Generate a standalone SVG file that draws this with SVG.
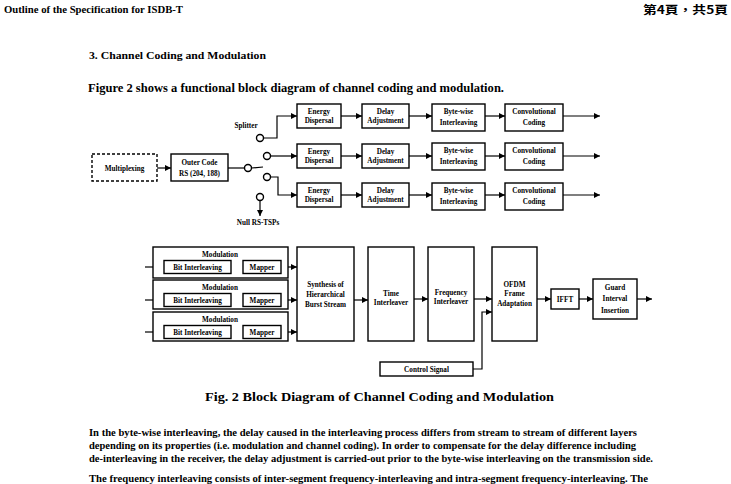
<svg xmlns="http://www.w3.org/2000/svg" width="731" height="484" viewBox="0 0 731 484">
<defs>
<marker id="ah" viewBox="0 0 6 6" refX="6" refY="3" markerWidth="6" markerHeight="6" markerUnits="userSpaceOnUse" orient="auto">
<path d="M0,0 L6,3 L0,6 Z" fill="#000"/>
</marker>
<style>
.bx{fill:#fff;stroke:#000;stroke-width:1.4}
.dash{fill:#fff;stroke:#000;stroke-width:1.4;stroke-dasharray:3 2}
.ln{fill:none;stroke:#000;stroke-width:1.2}
.ar{fill:none;stroke:#000;stroke-width:1.2;marker-end:url(#ah)}
.cir{fill:#fff;stroke:#000;stroke-width:1.4}
.t{font-family:'Liberation Serif','Times New Roman',serif;font-weight:bold;font-size:7.2px;text-anchor:middle;fill:#000}
.p{font-family:'Liberation Serif','Times New Roman',serif;font-weight:bold;fill:#000}
</style>
</defs>
<rect width="731" height="484" fill="#fff"/>

<g id="page-text">
<text class="p" x="4" y="13" font-size="10" textLength="179" lengthAdjust="spacingAndGlyphs">Outline of the Specification for ISDB-T</text>
<text x="643" y="14" font-family="'Noto Sans CJK TC','Noto Sans CJK SC',sans-serif" font-weight="bold" font-size="11" textLength="85" lengthAdjust="spacingAndGlyphs">第4頁，共5頁</text>
<text class="p" x="89" y="59" font-size="10.5" textLength="177" lengthAdjust="spacingAndGlyphs">3. Channel Coding and Modulation</text>
<text class="p" x="88" y="92" font-size="11.5" textLength="416" lengthAdjust="spacingAndGlyphs">Figure 2 shows a functional block diagram of channel coding and modulation.</text>
<text class="p" x="205" y="401" font-size="12" textLength="349" lengthAdjust="spacingAndGlyphs">Fig. 2  Block Diagram of Channel Coding and Modulation</text>
<text class="p" x="89" y="436" font-size="10" textLength="548" lengthAdjust="spacingAndGlyphs">In the byte-wise interleaving, the delay caused in the interleaving process differs from stream to stream of different layers</text>
<text class="p" x="89" y="449" font-size="10" textLength="547" lengthAdjust="spacingAndGlyphs">depending on its properties (i.e. modulation and channel coding). In order to compensate for the delay difference including</text>
<text class="p" x="89" y="462" font-size="10" textLength="564" lengthAdjust="spacingAndGlyphs">de-interleaving in the receiver, the delay adjustment is carried-out prior to the byte-wise interleaving on the transmission side.</text>
<text class="p" x="89" y="482" font-size="10" textLength="559" lengthAdjust="spacingAndGlyphs">The frequency interleaving consists of inter-segment frequency-interleaving and intra-segment frequency-interleaving. The</text>
</g>

<g id="connectors">
<line class="ar" x1="157" y1="168" x2="171" y2="168"/>
<line class="ln" x1="228" y1="168" x2="244.5" y2="168"/>
<line class="ln" x1="251.5" y1="168" x2="263" y2="167"/>
<polyline class="ar" points="263.5,138 277,138 277,116 297,116"/>
<line class="ar" x1="270.5" y1="156" x2="297" y2="156"/>
<polyline class="ar" points="270.5,177 278,177 278,195 297,195"/>
<line class="ar" x1="260" y1="200.5" x2="260" y2="216"/>

<line class="ar" x1="341" y1="116" x2="362" y2="116"/>
<line class="ar" x1="409" y1="116" x2="432" y2="116"/>
<line class="ar" x1="485" y1="116" x2="505" y2="116"/>
<line class="ar" x1="563" y1="116" x2="600" y2="116"/>
<line class="ar" x1="341" y1="156" x2="362" y2="156"/>
<line class="ar" x1="409" y1="156" x2="432" y2="156"/>
<line class="ar" x1="485" y1="156" x2="505" y2="156"/>
<line class="ar" x1="563" y1="156" x2="600" y2="156"/>
<line class="ar" x1="341" y1="195" x2="362" y2="195"/>
<line class="ar" x1="409" y1="195" x2="432" y2="195"/>
<line class="ar" x1="485" y1="195" x2="505" y2="195"/>
<line class="ar" x1="563" y1="195" x2="600" y2="195"/>

<line class="ar" x1="145" y1="267" x2="164" y2="267"/>
<line class="ar" x1="231" y1="267" x2="243" y2="267"/>
<line class="ar" x1="281" y1="267" x2="297" y2="267"/>
<line class="ar" x1="145" y1="300" x2="164" y2="300"/>
<line class="ar" x1="231" y1="300" x2="243" y2="300"/>
<line class="ar" x1="281" y1="300" x2="297" y2="300"/>
<line class="ar" x1="145" y1="332" x2="164" y2="332"/>
<line class="ar" x1="231" y1="332" x2="243" y2="332"/>
<line class="ar" x1="281" y1="332" x2="297" y2="332"/>

<line class="ar" x1="354" y1="300" x2="368" y2="300"/>
<line class="ar" x1="414" y1="299" x2="428" y2="299"/>
<line class="ar" x1="474" y1="299" x2="492" y2="299"/>
<polyline class="ar" points="473,369 482,369 482,312 492,312"/>
<line class="ar" x1="537" y1="299" x2="551" y2="299"/>
<line class="ar" x1="579" y1="299" x2="593" y2="299"/>
<line class="ar" x1="637" y1="299" x2="652" y2="299"/>
</g>

<g id="multiplexing">
<rect class="dash" x="92" y="154" width="65" height="27"/>
<text class="t" x="124.5" y="170.5">Multiplexing</text>
</g>
<g id="outer-code">
<rect class="bx" x="171" y="154" width="57" height="27"/>
<text class="t" x="199.5" y="165">Outer Code</text>
<text class="t" x="199.5" y="176">RS (204, 188)</text>
</g>
<g id="splitter">
<circle class="cir" cx="248" cy="168" r="3.5"/>
<circle class="cir" cx="260" cy="138" r="3.5"/>
<circle class="cir" cx="267" cy="156" r="3.5"/>
<circle class="cir" cx="267" cy="177" r="3.5"/>
<circle class="cir" cx="260" cy="197" r="3.5"/>
<text class="t" x="246" y="127.5">Splitter</text>
<text class="t" x="258" y="224.5">Null RS-TSPs</text>
</g>

<g id="energy-1"><rect class="bx" x="297" y="104" width="44" height="24"/><text class="t" x="319" y="113.5">Energy</text><text class="t" x="319" y="123">Dispersal</text></g>
<g id="energy-2"><rect class="bx" x="297" y="144" width="44" height="24"/><text class="t" x="319" y="153.5">Energy</text><text class="t" x="319" y="163">Dispersal</text></g>
<g id="energy-3"><rect class="bx" x="297" y="183" width="44" height="24"/><text class="t" x="319" y="192.5">Energy</text><text class="t" x="319" y="202">Dispersal</text></g>

<g id="delay-1"><rect class="bx" x="362" y="104" width="47" height="24"/><text class="t" x="385.5" y="113.5">Delay</text><text class="t" x="385.5" y="123">Adjustment</text></g>
<g id="delay-2"><rect class="bx" x="362" y="144" width="47" height="24"/><text class="t" x="385.5" y="153.5">Delay</text><text class="t" x="385.5" y="163">Adjustment</text></g>
<g id="delay-3"><rect class="bx" x="362" y="183" width="47" height="24"/><text class="t" x="385.5" y="192.5">Delay</text><text class="t" x="385.5" y="202">Adjustment</text></g>

<g id="byte-1"><rect class="bx" x="432" y="104" width="53" height="27"/><text class="t" x="458.5" y="114">Byte-wise</text><text class="t" x="458.5" y="124.5">Interleaving</text></g>
<g id="byte-2"><rect class="bx" x="432" y="143" width="53" height="27"/><text class="t" x="458.5" y="153">Byte-wise</text><text class="t" x="458.5" y="163.5">Interleaving</text></g>
<g id="byte-3"><rect class="bx" x="432" y="183" width="53" height="27"/><text class="t" x="458.5" y="193">Byte-wise</text><text class="t" x="458.5" y="203.5">Interleaving</text></g>

<g id="conv-1"><rect class="bx" x="505" y="104" width="58" height="27"/><text class="t" x="534" y="114">Convolutional</text><text class="t" x="534" y="124.5">Coding</text></g>
<g id="conv-2"><rect class="bx" x="505" y="143" width="58" height="27"/><text class="t" x="534" y="153">Convolutional</text><text class="t" x="534" y="163.5">Coding</text></g>
<g id="conv-3"><rect class="bx" x="505" y="183" width="58" height="27"/><text class="t" x="534" y="193">Convolutional</text><text class="t" x="534" y="203.5">Coding</text></g>

<g id="modulation-1">
<rect class="bx" x="153" y="247" width="135" height="31"/>
<text class="t" x="220" y="257">Modulation</text>
<rect class="bx" x="164" y="260.5" width="67" height="13"/><text class="t" x="197.5" y="269.5">Bit Interleaving</text>
<rect class="bx" x="243" y="260.5" width="38" height="13"/><text class="t" x="262" y="269.5">Mapper</text>
</g>
<g id="modulation-2">
<rect class="bx" x="153" y="280" width="135" height="29"/>
<text class="t" x="220" y="290">Modulation</text>
<rect class="bx" x="164" y="293.5" width="67" height="13"/><text class="t" x="197.5" y="302.5">Bit Interleaving</text>
<rect class="bx" x="243" y="293.5" width="38" height="13"/><text class="t" x="262" y="302.5">Mapper</text>
</g>
<g id="modulation-3">
<rect class="bx" x="153" y="312" width="135" height="29"/>
<text class="t" x="220" y="322">Modulation</text>
<rect class="bx" x="164" y="325.5" width="67" height="13"/><text class="t" x="197.5" y="334.5">Bit Interleaving</text>
<rect class="bx" x="243" y="325.5" width="38" height="13"/><text class="t" x="262" y="334.5">Mapper</text>
</g>

<g id="synthesis"><rect class="bx" x="297" y="247" width="57" height="94"/>
<text class="t" x="325.5" y="286.5">Synthesis of</text><text class="t" x="325.5" y="296.5">Hierarchical</text><text class="t" x="325.5" y="306.5">Burst Stream</text></g>
<g id="time-interleaver"><rect class="bx" x="368" y="247" width="46" height="94"/>
<text class="t" x="391" y="295.5">Time</text><text class="t" x="391" y="304.5">Interleaver</text></g>
<g id="frequency-interleaver"><rect class="bx" x="428" y="247" width="46" height="94"/>
<text class="t" x="451" y="294.5">Frequency</text><text class="t" x="451" y="303.5">Interleaver</text></g>
<g id="ofdm"><rect class="bx" x="492" y="247" width="45" height="94"/>
<text class="t" x="514.5" y="286.5">OFDM</text><text class="t" x="514.5" y="295.5">Frame</text><text class="t" x="514.5" y="305.5">Adaptation</text></g>
<g id="ifft"><rect class="bx" x="551" y="289" width="28" height="20"/><text class="t" x="565" y="301.5">IFFT</text></g>
<g id="guard"><rect class="bx" x="593" y="279" width="44" height="40"/>
<text class="t" x="615" y="289.5">Guard</text><text class="t" x="615" y="300.5">Interval</text><text class="t" x="615" y="312.5">Insertion</text></g>
<g id="control-signal"><rect class="bx" x="380" y="362" width="93" height="14"/><text class="t" x="426.5" y="371.5">Control Signal</text></g>
</svg>
